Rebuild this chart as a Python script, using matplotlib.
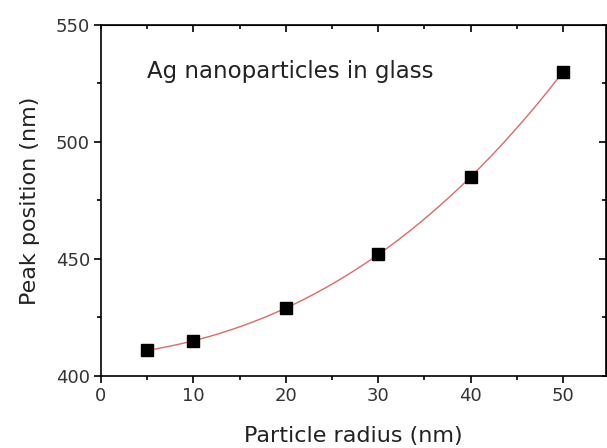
import numpy as np
import matplotlib
matplotlib.use("Agg")
import matplotlib.pyplot as plt
from matplotlib.ticker import MultipleLocator

plt.rcParams['font.family'] = ['DejaVu Sans']

# Peak position of Ag nanoparticles vs radius
radius = [5, 10, 20, 30, 40, 50]
peak = [411, 415, 429, 452, 485, 530]

fig = plt.figure(figsize=(6.07, 4.48), dpi=100)
ax = fig.add_axes([101 / 607, 1 - 376 / 448, 505 / 607, 351 / 448])

# smooth curve through the points
coef = np.polyfit(radius, peak, 3)
xs = np.linspace(radius[0], radius[-1], 200)
ax.plot(xs, np.polyval(coef, xs), color='#e06868', lw=1.0, zorder=2)
ax.plot(radius, peak, 's', color='black', ms=8, zorder=3)

ax.set_xlim(0, 54.65)
ax.set_ylim(400, 550)
ax.xaxis.set_major_locator(MultipleLocator(10))
ax.xaxis.set_minor_locator(MultipleLocator(5))
ax.yaxis.set_major_locator(MultipleLocator(50))
ax.yaxis.set_minor_locator(MultipleLocator(25))

ax.tick_params(which='both', direction='out', top=False, right=False,
               labelsize=13, labelcolor='#333333', width=1.2, pad=3)
ax.tick_params(which='major', length=5)
ax.tick_params(which='minor', length=3)
for side in ['left', 'bottom', 'top', 'right']:
    ax.spines[side].set_linewidth(1.2)

# inward ticks on top and right
top = ax.secondary_xaxis('top')
top.set_xticks([10, 20, 30, 40, 50])
top.xaxis.set_minor_locator(MultipleLocator(5))
top.tick_params(which='both', direction='in', labeltop=False, width=1.2)
top.tick_params(which='major', length=5)
top.tick_params(which='minor', length=3)
right = ax.secondary_yaxis('right')
right.set_yticks([450, 500])
right.yaxis.set_minor_locator(MultipleLocator(25))
right.tick_params(which='both', direction='in', labelright=False, width=1.2)
right.tick_params(which='major', length=5)
right.tick_params(which='minor', length=3)

ax.set_xlabel('Particle radius (nm)', fontsize=16, color='#222222', labelpad=15)
ax.set_ylabel('Peak position (nm)', fontsize=16, color='#222222', labelpad=11)
ax.text(5, 530, 'Ag nanoparticles in glass', fontsize=16.5, color='#222222',
        va='center')

fig.savefig('out.png', dpi=100)
